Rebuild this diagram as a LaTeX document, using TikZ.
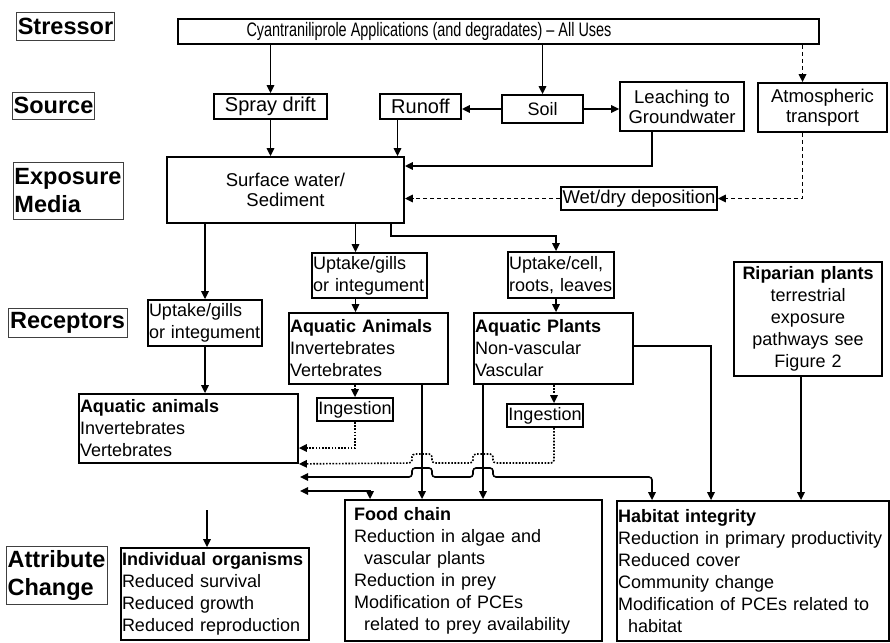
\documentclass[tikz,border=0pt]{standalone}
\usepackage{fontspec}
\setmainfont{Liberation Sans}
\newfontfamily\narrowfont{Liberation Sans}[FakeStretch=0.74, Ligatures=TeX]
\usetikzlibrary{arrows.meta, calc}

\tikzset{
  lbl/.style={draw=black!75, line width=0.7pt, inner sep=1pt, align=left,
    font=\fontsize{23.5}{28}\selectfont\bfseries},
  box/.style={draw, line width=1.8pt, inner sep=1pt, font=\fontsize{18}{22}\selectfont},
  arr/.style={-{Triangle[length=8pt,width=7.5pt]}, line width=1.6pt},
  arrboth/.style={{Triangle[length=8pt,width=7.5pt]}-{Triangle[length=8pt,width=7.5pt]}, line width=1.6pt},
  dasharr/.style={arr, dash pattern=on 4.5pt off 2.5pt},
  dotarr/.style={arr, dash pattern=on 1.6pt off 1.6pt},
}

\begin{document}
\begin{tikzpicture}[x=1pt, y=-1pt]
  \useasboundingbox (0,0) rectangle (890,642);
  % Row labels
  \node[lbl, minimum width=97pt, minimum height=28pt] (lstressor) at (65.5,26) {Stressor};
  \node[lbl, minimum width=81pt, minimum height=27pt] (lsource) at (53.5,105.5) {Source};
  \node[lbl, minimum width=110pt, minimum height=57pt] (lmedia) at (68,190.5) {Exposure\\Media};
  \node[lbl, minimum width=119pt, minimum height=29pt] (lreceptors) at (67.5,322.5) {Receptors};
  \node[lbl, minimum width=101pt, minimum height=58pt] (lattribute) at (56.5,575) {Attribute\\Change};

  % Stressor and sources
  \node[box, minimum width=641pt, minimum height=25pt, font=\fontsize{19.5}{22}\narrowfont] (app) at (498.5,31.5)
    {Cyantraniliprole Applications (and degradates) – All Uses\hspace*{139pt}};
  \node[box, minimum width=113pt, minimum height=25pt, font=\fontsize{20}{22}\selectfont] (spray) at (270.5,106.5) {Spray drift};
  \node[box, minimum width=81pt, minimum height=25pt, font=\fontsize{20}{22}\selectfont] (runoff) at (420.5,106.5) {Runoff};
  \node[box, minimum width=81pt, minimum height=28pt] (soil) at (542.5,109) {Soil};
  \node[box, minimum width=124pt, minimum height=49pt, align=center, font=\fontsize{18.5}{20}\selectfont] (leach) at (682,106.5) {Leaching to\\Groundwater};
  \node[box, minimum width=129pt, minimum height=49pt, align=center, font=\fontsize{18.5}{20}\selectfont] (atmos) at (822.5,107.5) {Atmospheric\\transport};

  % Exposure media
  \node[box, minimum width=237pt, minimum height=66pt, align=center, font=\fontsize{18.5}{20}\selectfont] (surf) at (285.5,190) {Surface water/\\Sediment};
  \node[box, minimum width=156pt, minimum height=23pt, font=\fontsize{18.5}{20}\selectfont] (wetdry) at (639,198.5) {Wet/dry deposition};

  % Receptors
  \node[box, text width=112pt, minimum height=46pt, align=left] (upt1) at (205,323) {Uptake/gills\\or integument};
  \node[box, text width=113pt, minimum height=45pt, align=left] (upt2) at (369.5,275.5) {Uptake/gills\\or integument};
  \node[box, text width=104pt, minimum height=46pt, align=left] (uptc) at (561,275) {Uptake/cell,\\roots, leaves};
  \node[box, text width=217pt, minimum height=69pt, align=left] (aanim) at (188.5,428.5)
    {\textbf{Aquatic animals}\\Invertebrates\\Vertebrates};
  \node[box, text width=157pt, minimum height=71pt, align=left] (aAnim) at (368.5,348.5)
    {\textbf{Aquatic Animals}\\Invertebrates\\Vertebrates};
  \node[box, text width=157pt, minimum height=71pt, align=left] (aPlant) at (553.5,348.5)
    {\textbf{Aquatic Plants}\\Non-vascular\\Vascular};
  \node[box, text width=146pt, minimum height=114pt, align=center] (ripar) at (808,319)
    {\textbf{Riparian plants}\\terrestrial\\exposure\\pathways see\\Figure 2};
  \node[box, minimum width=76pt, minimum height=23pt] (ing1) at (355,409.5) {Ingestion};
  \node[box, minimum width=76pt, minimum height=23pt] (ing2) at (545,415.5) {Ingestion};

  % Attribute change
  \node[box, text width=186pt, minimum height=92pt, align=left] (indiv) at (215,594)
    {\textbf{Individual organisms}\\Reduced survival\\Reduced growth\\Reduced reproduction};
  \node[box, text width=239pt, inner xsep=9pt, minimum height=141pt, align=left] (food) at (473.5,570.5)
    {\textbf{Food chain}\\Reduction in algae and\\\hspace*{10pt}vascular plants\\Reduction in prey\\Modification of PCEs\\\hspace*{10pt}related to prey availability};
  \node[box, text width=270pt, minimum height=140pt, align=left] (habitat) at (753,571)
    {\textbf{Habitat integrity}\\Reduction in primary productivity\\Reduced cover\\Community change\\Modification of PCEs related to\\\hspace*{10pt}habitat};

  \coordinate (outA) at (300,477);
  \coordinate (outB) at (300,491);
  \coordinate (inI) at (207,510);

  % Stressor to sources
  \draw[arr] (app.south -| spray.north) -- (spray.north);
  \draw[arr] (app.south -| soil.north) -- (soil.north);
  \draw[dasharr] ([xshift=-20pt]atmos.north |- app.south) -- ([xshift=-20pt]atmos.north);
  \draw[arr] (soil.west) -- (soil.west -| runoff.east);
  \draw[arr] (soil.east) -- (soil.east -| leach.west);

  % Sources to media
  \draw[arr] (spray.south) -- (spray.south |- surf.north);
  \draw[arr] ([xshift=-23pt]runoff.south) -- ([xshift=-23pt]runoff.south |- surf.north);
  \draw[arr] ([xshift=-30pt]leach.south) |- ([yshift=24pt]surf.east);
  \draw[dasharr] ([xshift=-20pt]atmos.south) |- (wetdry.east);
  \draw[dasharr] (wetdry.west) -- (wetdry.west -| surf.east);

  % Media to receptors
  \draw[arr] (surf.south -| upt1.north) -- (upt1.north);
  \draw[arr] (upt1.south) -- (upt1.south |- aanim.north);
  \draw[arr] ([xshift=-14pt]upt2.north |- surf.south) -- ([xshift=-14pt]upt2.north);
  \draw[arr] ([xshift=-14pt]upt2.south) -- ([xshift=-14pt]upt2.south |- aAnim.north);
  \draw[arr] ([xshift=-14pt]surf.south east) |- ([xshift=-5pt,yshift=15pt]uptc.north) -- ([xshift=-5pt]uptc.north);
  \draw[arr] ([xshift=-5pt]uptc.south) -- ([xshift=-5pt]uptc.south |- aPlant.north);

  % Ingestion
  \draw[dotarr] (aAnim.south -| ing1.north) -- (ing1.north);
  \draw[dotarr] ([xshift=9pt]ing2.north |- aPlant.south) -- ([xshift=9pt]ing2.north);
  \draw[dotarr] (ing1.south) |- ([yshift=-19.5pt]aanim.east);
  \draw[dotarr, rounded corners=3pt] ([xshift=9pt]ing2.south) |- (493,463) -- (493,454) -- (473,454) -- (473,463)
    -- (432,463) -- (432,454) -- (412,454) -- (412,463) -- (aanim.south east);

  % Receptors to attribute change
  \draw[arrboth, rounded corners=3pt] (outA) -- (412,477) -- (412,468) -- (432,468) -- (432,477)
    -- (473,477) -- (473,468) -- (493,468) -- (493,477) -| ([xshift=-101pt]habitat.north);
  \draw[arrboth] (outB) -| ([xshift=-103.5pt]food.north);
  \draw[arr] ([xshift=53.5pt]aAnim.south) -- ([xshift=53.5pt]aAnim.south |- food.north);
  \draw[arr] ([xshift=-70.5pt]aPlant.south) -- ([xshift=-70.5pt]aPlant.south |- food.north);
  \draw[arr] ([yshift=2.5pt]aPlant.east) -| ([xshift=-42pt]habitat.north);
  \draw[arr] ([xshift=-7pt]ripar.south) -- ([xshift=-7pt]ripar.south |- habitat.north);
  \draw[arr] (inI) -- (inI |- indiv.north);
\end{tikzpicture}
\end{document}
